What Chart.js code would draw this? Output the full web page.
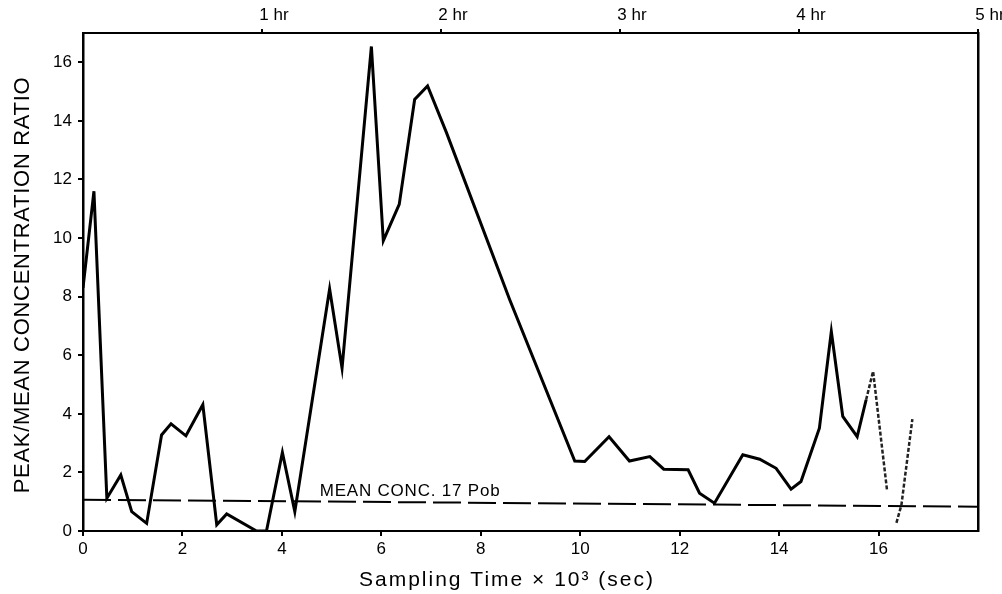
<!DOCTYPE html>
<html>
<head>
<meta charset="utf-8">
<script src="https://cdn.jsdelivr.net/npm/chart.js@4/dist/chart.umd.min.js"></script>
<style>
html,body{margin:0;padding:0;background:#fff;}
#wrap{width:1002px;height:594px;position:relative;}
</style>
</head>
<body>
<div id="wrap"><canvas id="c" width="1002" height="594"></canvas></div>
<script>
// Sampling time (x 10^3 sec) and peak/mean concentration ratio
const mainX = [0.0, 0.22, 0.48, 0.76, 0.98, 1.28, 1.58, 1.77, 2.07, 2.41, 2.69, 2.89, 3.49, 3.69, 4.01, 4.26, 4.96, 5.21, 5.80, 6.04, 6.36, 6.67, 6.93, 7.31, 8.58, 9.89, 10.09, 10.58, 10.99, 11.40, 11.68, 12.17, 12.40, 12.70, 13.27, 13.61, 13.94, 14.24, 14.44, 14.81, 15.05, 15.28, 15.57, 15.75];
const mainY = [8.3, 11.6, 1.12, 1.91, 0.66, 0.26, 3.28, 3.66, 3.25, 4.31, 0.21, 0.58, 0.0, 0.0, 2.68, 0.66, 8.26, 5.56, 16.54, 9.91, 11.15, 14.73, 15.19, 13.6, 7.9, 2.39, 2.37, 3.22, 2.39, 2.54, 2.11, 2.09, 1.29, 0.95, 2.6, 2.45, 2.14, 1.43, 1.69, 3.51, 6.81, 3.91, 3.22, 4.48];
const tailX = [15.75, 15.89, 16.17, null, 16.36, 16.46, 16.68];
const tailY = [4.48, 5.45, 1.4, null, 0.28, 0.89, 3.82];
const meanX = [0, 18];
const meanY = [1.07, 0.83];
const meanLabel = "MEAN CONC. 17 Pob";
const xTitle = "Sampling Time \u00d7 10\u00b3 (sec)";
const yTitle = "PEAK/MEAN CONCENTRATION RATIO";
const bottomTicks = [0, 2, 4, 6, 8, 10, 12, 14, 16];
const leftTicks = [0, 2, 4, 6, 8, 10, 12, 14, 16];
const hourTicks = [3.6, 7.2, 10.8, 14.4, 18];
const hourLabels = ["1 hr", "2 hr", "3 hr", "4 hr", "5 hr"];

const pts = (xs, ys) => xs.map((x, i) => (x === null ? {x: null, y: null} : {x: x, y: ys[i]}));

const FONT = "'Liberation Sans', Arial, Helvetica, sans-serif";

const textPlugin = {
  id: 'texts',
  afterDraw(chart) {
    const {ctx, scales} = chart;
    ctx.save();
    ctx.fillStyle = '#000';
    ctx.textBaseline = 'middle';
    ctx.font = "17px " + FONT;
    ctx.letterSpacing = '0.8px';
    ctx.textAlign = 'left';
    ctx.fillText(meanLabel, scales.x.getPixelForValue(4.76), scales.y.getPixelForValue(1.36));
    ctx.font = "21px " + FONT;
    ctx.letterSpacing = '2px';
    ctx.textAlign = 'center';
    ctx.fillText(xTitle, 507, 580);
    ctx.font = "22px " + FONT;
    ctx.letterSpacing = '0.7px';
    ctx.translate(23, 285);
    ctx.rotate(-Math.PI / 2);
    ctx.textAlign = 'center';
    ctx.fillText(yTitle, 0, 0);
    ctx.restore();
  }
};

new Chart(document.getElementById('c'), {
  type: 'line',
  data: {
    datasets: [
      {data: pts(mainX, mainY), borderColor: '#000', borderWidth: 3, pointRadius: 0, tension: 0, fill: false},
      {data: pts(tailX, tailY), borderColor: '#222', borderWidth: 2.5, borderDash: [4, 2], pointRadius: 0, tension: 0, fill: false, spanGaps: false},
      {data: pts(meanX, meanY), borderColor: '#000', borderWidth: 2, borderDash: [28, 7], pointRadius: 0, tension: 0, fill: false}
    ]
  },
  options: {
    responsive: false,
    animation: false,
    events: [],
    layout: {padding: 0},
    plugins: {legend: {display: false}, tooltip: {enabled: false}},
    scales: {
      x: {
        type: 'linear', position: 'bottom', min: 0, max: 18,
        afterBuildTicks(s) { s.ticks = bottomTicks.map(v => ({value: v})); },
        afterFit(s) { s.height = 63; },
        ticks: {color: '#000', font: {family: FONT, size: 17}, padding: 3, maxRotation: 0, autoSkip: false, callback: v => String(v)},
        grid: {drawOnChartArea: false, drawTicks: true, tickLength: 5, color: '#000', lineWidth: 2},
        border: {display: true, color: '#000', width: 2}
      },
      x2: {
        type: 'linear', position: 'top', min: 0, max: 18,
        afterBuildTicks(s) { s.ticks = hourTicks.map(v => ({value: v})); },
        afterFit(s) { s.height = 33; },
        ticks: {color: '#000', font: {family: FONT, size: 17}, padding: 3, labelOffset: 12, maxRotation: 0, autoSkip: false,
          callback: (v) => { const i = hourTicks.indexOf(v); return i >= 0 ? hourLabels[i] : ''; }},
        grid: {drawOnChartArea: false, drawTicks: true, tickLength: 4, color: '#000', lineWidth: 2},
        border: {display: true, color: '#000', width: 2}
      },
      y: {
        type: 'linear', position: 'left', min: 0, max: 17,
        afterBuildTicks(s) { s.ticks = leftTicks.map(v => ({value: v})); },
        afterFit(s) { s.width = 83; },
        ticks: {color: '#000', font: {family: FONT, size: 17}, padding: 6, autoSkip: false, callback: v => String(v)},
        grid: {drawOnChartArea: false, drawTicks: true, tickLength: 5, color: '#000', lineWidth: 2},
        border: {display: true, color: '#000', width: 2.5}
      },
      y2: {
        type: 'linear', position: 'right', min: 0, max: 17,
        afterFit(s) { s.width = 24; },
        ticks: {display: false},
        grid: {display: false},
        border: {display: true, color: '#000', width: 2.5}
      }
    }
  },
  plugins: [textPlugin]
});
</script>
</body>
</html>
